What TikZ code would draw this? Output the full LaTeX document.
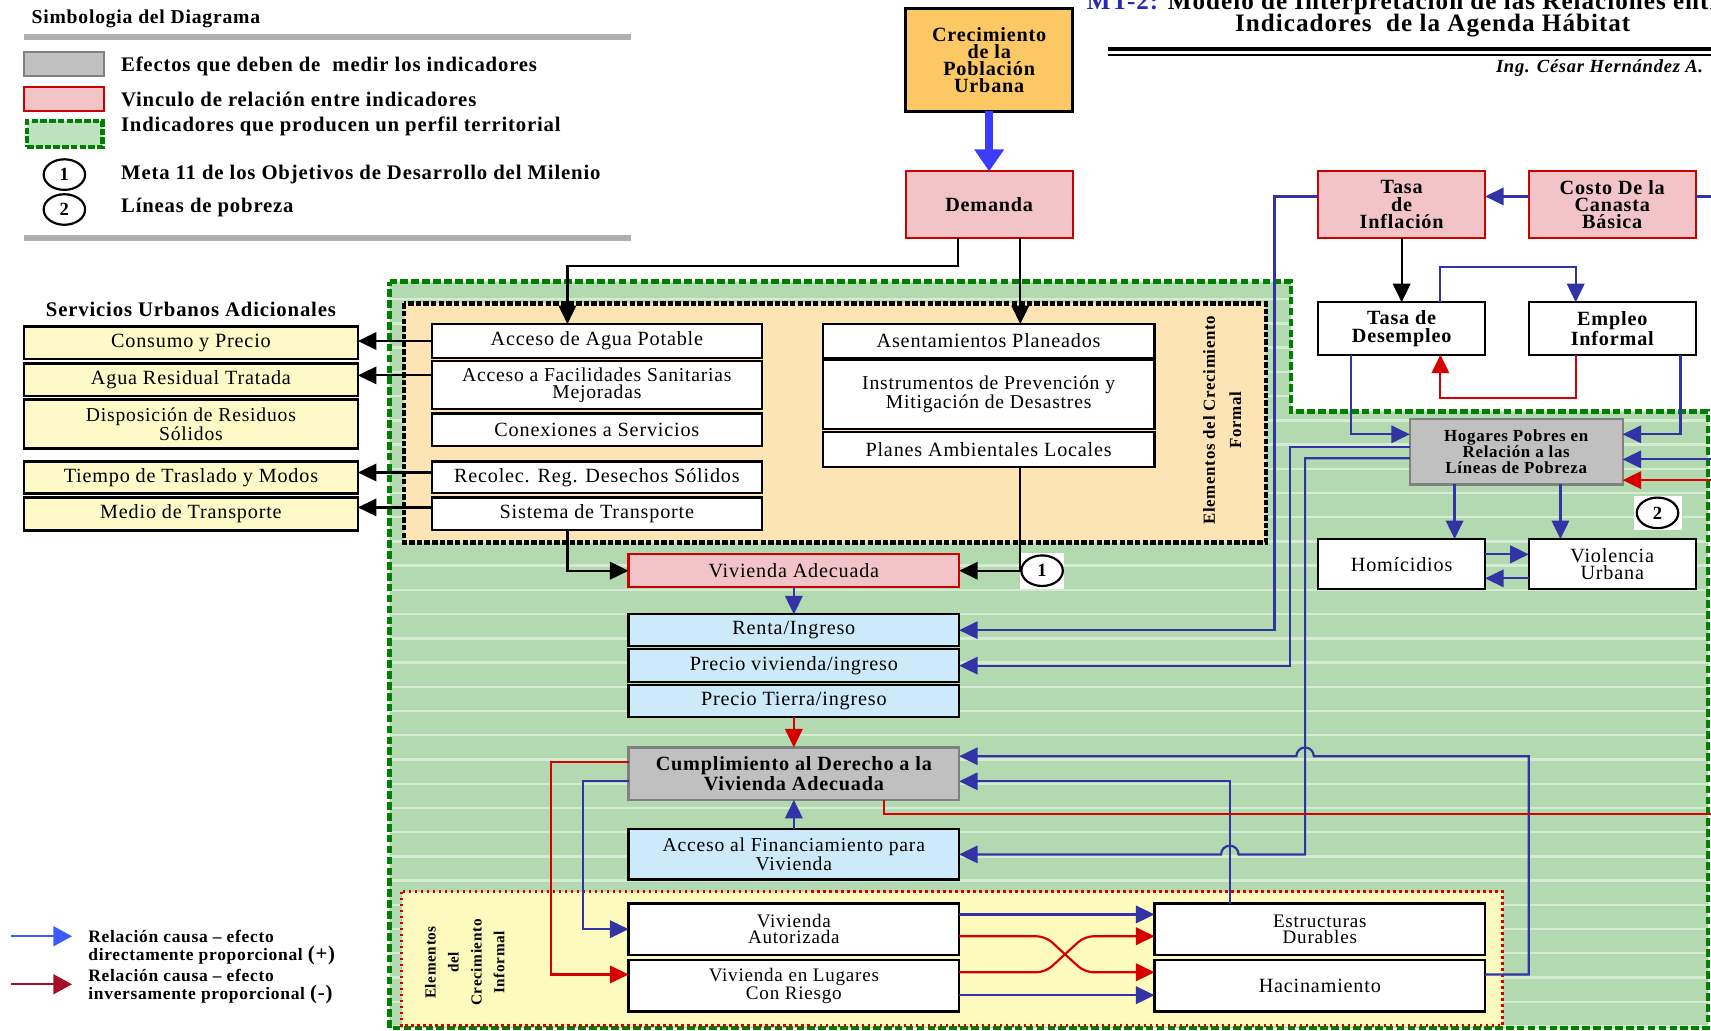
\documentclass[tikz,border=0pt]{standalone}
\usepackage{fontspec}
\setmainfont[LetterSpace=4]{Liberation Serif}
\usetikzlibrary{arrows.meta,shapes.geometric}

\definecolor{pinkf}{RGB}{242,196,200}
\definecolor{redb}{RGB}{205,0,0}
\definecolor{grayf}{RGB}{192,192,192}
\definecolor{grayb}{RGB}{128,128,128}
\definecolor{bluef}{RGB}{204,234,250}
\definecolor{yelf}{RGB}{253,250,200}
\definecolor{orangef}{RGB}{252,200,100}
\definecolor{formalf}{RGB}{253,228,180}
\definecolor{informalf}{RGB}{253,250,190}
\definecolor{greenf}{RGB}{178,217,176}
\definecolor{greenstripe}{RGB}{214,236,210}
\definecolor{greenb}{RGB}{0,128,0}
\definecolor{leggreen}{RGB}{190,226,190}
\definecolor{lineblue}{RGB}{50,52,165}
\definecolor{linered}{RGB}{215,0,0}
\definecolor{bigblue}{RGB}{60,60,255}
\definecolor{legblue}{RGB}{60,90,255}
\definecolor{legred}{RGB}{165,15,40}
\definecolor{barg}{RGB}{175,175,175}
\definecolor{titleblue}{RGB}{40,40,190}

\newcommand\fsz[2]{\fontsize{#1}{#2}\selectfont}
% box from its corners: name, x1, y1, x2, y2, style, text
\newcommand\bx[7]{\node[#6,minimum width={#4-#2},minimum height={#5-#3}] (#1) at ({(#2+#4)/2},{(#3+#5)/2}) {#7};}

\tikzset{
  every node/.style={inner sep=1pt,outer sep=0pt},
  box/.style={draw,line width=2pt,align=center,font=\fsz{18.5}{16}},
  bold/.style={font=\bfseries\fsz{18.5}{16}},
  wbox/.style={box,fill=white},
  pbox/.style={box,fill=pinkf,draw=redb},
  gbox/.style={box,fill=grayf,draw=grayb},
  bbox/.style={box,fill=bluef},
  ybox/.style={box,fill=yelf,line width=2.5pt},
  obox/.style={box,fill=orangef,line width=2.5pt},
  numc/.style={ellipse,draw,line width=2pt,fill=white,minimum width=38,minimum height=28,inner sep=0pt,font=\bfseries\fsz{17}{17}},
  tip/.style={-{Triangle[length=17pt,width=16pt]}},
  blu/.style={draw=lineblue,line width=2pt,tip},
  neg/.style={draw=linered,line width=2pt,tip},
  blk/.style={draw=black,line width=2pt,tip},
  legtxt/.style={anchor=west,font=\bfseries\fsz{19}{19}},
}

\begin{document}
\begin{tikzpicture}[x=1pt,y=-1pt]
\useasboundingbox (0,0) rectangle (1568,944);
\clip (0,0) rectangle (1568,944);
\fill[white] (0,0) rectangle (1568,944);

% ---------- legend ----------
\node[anchor=west,font=\bfseries\fsz{18}{18}] (simb) at (28,17) {Simbologia del Diagrama};
\draw[barg,line width=5pt] (22,34) -- (578,34);
\draw[barg,line width=5pt] (22,218) -- (578,218);
\bx{lg1}{22}{48}{95}{70}{box,fill=grayf,draw=grayb}{}
\bx{lg2}{22}{80}{95}{102}{pbox}{}
\bx{lg3}{25}{111}{94}{135}{box,fill=leggreen,draw=greenb,line width=4pt,dash pattern=on 6pt off 2pt}{}
\node[numc] (lc1) at (59,160) {1};
\node[numc] (lc2) at (59,192) {2};
\node[legtxt] (lt1) at (110,61) {Efectos que deben de~ medir los indicadores};
\node[legtxt] (lt2) at (110,91) {Vinculo de relación entre indicadores};
\node[legtxt] (lt3) at (110,116) {Indicadores que producen un perfil territorial};
\node[legtxt] (lt4) at (110,160) {Meta 11 de los Objetivos de Desarrollo del Milenio};
\node[legtxt] (lt5) at (110,190) {Líneas de pobreza};

% ---------- title ----------
\node[anchor=base west,font=\bfseries\fsz{23}{23}] (t1) at (995,9) {\textcolor{titleblue}{MT-2:} Modelo de Interpretación de las Relaciones entre};
\node[anchor=base,font=\bfseries\fsz{23}{23}] (t2) at (1313,29) {Indicadores~ de la Agenda Hábitat};
\draw[line width=3.5pt] (1015,45) -- (1575,45);
\draw[line width=1.5pt] (1015,50.5) -- (1575,50.5);
\node[anchor=base west,font=\bfseries\itshape\fsz{17}{17}] (auth) at (1370,66) {Ing. César Hernández A.};

% ---------- territorial profile region ----------
\begin{scope}
\clip (357,258) -- (1183,258) -- (1183,377) -- (1565,377) -- (1565,942) -- (357,942) -- cycle;
\fill[greenf] (300,200) rectangle (1600,960);
\foreach \k in {-15,...,16}
  \draw[greenstripe,line width=2.2pt] (350,{585+22.2*\k}) -- (1600,{585+22.2*\k});
\end{scope}
\draw[greenb,line width=4pt,dash pattern=on 7pt off 3pt]
  (357,258) -- (1183,258) -- (1183,377) -- (1565,377) -- (1565,942) -- (357,942) -- cycle;

% formal growth region
\draw[fill=formalf,line width=4pt,dash pattern=on 5pt off 2pt] (370,278) rectangle (1160,497);
\node[rotate=90,align=center,font=\bfseries\fsz{15.5}{24}] (eform) at (1120,385) {Elementos del Crecimiento\\Formal};

% informal growth region
\draw[fill=informalf,draw=linered,line width=2.5pt,dash pattern=on 2.5pt off 3pt] (368,817) rectangle (1377,940);
\node[rotate=90,align=center,font=\bfseries\fsz{14}{21}] (einf) at (426,882) {Elementos\\del\\Crecimiento\\Informal};

% ---------- nodes ----------
\bx{crec}{830}{8}{983}{102}{obox,bold,font=\bfseries\fsz{18.5}{15.5}}{Crecimiento\\de la\\Población\\Urbana}
\bx{dem}{830}{157}{983}{218}{pbox,bold}{Demanda}
\bx{infl}{1208}{157}{1361}{218}{pbox,bold}{Tasa\\de\\Inflación}
\bx{costo}{1401}{157}{1554}{218}{pbox,bold}{Costo De la\\Canasta\\Básica}
\bx{desemp}{1208}{277}{1361}{325}{wbox,bold}{Tasa de\\Desempleo}
\bx{empinf}{1401}{277}{1554}{325}{wbox,bold}{Empleo\\Informal}
\bx{hog}{1292}{384}{1487}{444}{gbox,font=\bfseries\fsz{15.5}{14.5}}{Hogares Pobres en\\Relación a las\\Líneas de Pobreza}
\bx{homi}{1208}{494}{1361}{540}{wbox}{Homícidios}
\bx{viol}{1401}{494}{1554}{540}{wbox}{Violencia\\Urbana}

\node[font=\bfseries\fsz{19}{19}] (serv) at (175,284) {Servicios Urbanos Adicionales};
\bx{s1}{22}{299}{328}{329}{ybox}{Consumo y Precio}
\bx{s2}{22}{333}{328}{363}{ybox}{Agua Residual Tratada}
\bx{s3}{22}{366}{328}{411}{ybox,font=\fsz{18}{15.5}}{Disposición de Residuos\\Sólidos}
\bx{s4}{22}{423}{328}{452}{ybox}{Tiempo de Traslado y Modos}
\bx{s5}{22}{456}{328}{486}{ybox}{Medio de Transporte}

\bx{f1}{396}{297}{698}{328}{wbox}{Acceso de Agua Potable}
\bx{f2}{396}{331}{698}{375}{wbox,font=\fsz{18}{16}}{Acceso a Facilidades Sanitarias\\Mejoradas}
\bx{f3}{396}{379}{698}{409}{wbox}{Conexiones a Servicios}
\bx{f4}{396}{423}{698}{452}{wbox}{Recolec. Reg. Desechos Sólidos}
\bx{f5}{396}{456}{698}{486}{wbox}{Sistema de Transporte}
\bx{g1}{754}{297}{1058}{328}{wbox}{Asentamientos Planeados}
\bx{g2}{754}{330}{1058}{393}{wbox,font=\fsz{18}{15.5}}{Instrumentos de Prevención y\\Mitigación de Desastres}
\bx{g3}{754}{396}{1058}{428}{wbox}{Planes Ambientales Locales}

\bx{vad}{576}{508}{879}{538}{pbox}{Vivienda Adecuada}
\fill[white] (935,507) rectangle (975,540);
\node[numc] (c1) at (955,523) {1};
\fill[white] (1497,455) rectangle (1541,486);
\node[numc] (c2) at (1519,470) {2};
\bx{renta}{576}{563}{879}{592}{bbox}{Renta/Ingreso}
\bx{pviv}{576}{595}{879}{625}{bbox}{Precio vivienda/ingreso}
\bx{ptie}{576}{628}{879}{657}{bbox}{Precio Tierra/ingreso}
\bx{cump}{576}{685}{879}{733}{gbox,bold}{Cumplimiento al Derecho a la\\Vivienda Adecuada}
\bx{afin}{576}{760}{879}{806}{bbox,font=\fsz{18}{16}}{Acceso al Financiamiento para\\Vivienda}

\bx{vaut}{576}{828}{879}{875}{wbox,font=\fsz{17.5}{15}}{Vivienda\\Autorizada}
\bx{vries}{576}{880}{879}{927}{wbox,font=\fsz{17.5}{16}}{Vivienda en Lugares\\Con Riesgo}
\bx{estr}{1058}{828}{1361}{875}{wbox,font=\fsz{17.5}{15}}{Estructuras\\Durables}
\bx{hac}{1058}{880}{1361}{927}{wbox}{Hacinamiento}

% ---------- connectors ----------
\draw[bigblue,line width=7pt,-{Triangle[length=20pt,width=26pt]}] (crec.south) -- (dem.north);
\draw[blk] ([xshift=-28.5]dem.south) -- ++(0,26) -| ([xshift=-27]f1.north);
\draw[blk] ([xshift=28.5]dem.south) -- ([xshift=28.5]dem.south |- g1.north);

\draw[blk] (f1.west) -- (f1.west -| s1.east);
\draw[blk] ([yshift=9]f2.west) -- ([yshift=9]f2.west -| s2.east);
\draw[blk] ([yshift=4.5]f4.west) -- ([yshift=4.5]f4.west -| s4.east);
\draw[blk] ([yshift=6]f5.west) -- ([yshift=6]f5.west -| s5.east);

\draw[blk] ([xshift=-27]f5.south) |- (vad.west);
\draw[line width=2pt] ([xshift=29]g3.south) |- (c1.west);
\draw[blk] (c1.west) -- (vad.east);

\draw[blu] (vad.south) -- (renta.north);
\draw[neg] (ptie.south) -- (cump.north);
\draw[blu] (afin.north) -- (cump.south);

\draw[blu] ([yshift=7.5]costo.west) -- ([yshift=7.5]infl.east);
\draw[blu,-] ([yshift=7.5]costo.east) -- ++(30,0);
\draw[blk] (infl.south) -- (desemp.north);
\draw[blu] ([yshift=7.5]infl.west) -- ++(-40,0) |- (renta.east);

\draw[blu] ([xshift=35.5]desemp.north) -- ++(0,-32) -| ([xshift=-33.5]empinf.north);
\draw[neg] ([xshift=-33.5]empinf.south) -- ++(0,40) -| ([xshift=35.5]desemp.south);
\draw[blu] ([xshift=-46.5]desemp.south) |- ([yshift=16]hog.west);
\draw[blu] ([xshift=62.5]empinf.south) |- ([yshift=16]hog.east);
\draw[blu] (1580,421) -- ([yshift=-7]hog.east);
\draw[neg] (1580,440) -- ([yshift=-26]hog.east);

\draw[blu] ([xshift=-56.5]hog.south) -- ([xshift=-56.5]hog.south |- homi.north);
\draw[blu] ([xshift=40.5]hog.south) -- ([xshift=40.5]hog.south |- viol.north);
\draw[blu] ([yshift=9]homi.east) -- ([yshift=9]viol.west);
\draw[blu] ([yshift=-13]viol.west) -- ([yshift=-13]homi.east);

\draw[blu] ([yshift=4]hog.west) -| (1182,610) -- (pviv.east);
\draw[blu] ([yshift=-6]hog.west) -| (1196,783) -- (1135,783)
  arc[start angle=0,end angle=180,radius=8pt] -- (afin.east);
\draw[blu] ([xshift=-82.5]estr.north) |- ([yshift=-7]cump.east);
\draw[blu] ([yshift=10.5]hac.east) -| (1401,693) -- (1204,693)
  arc[start angle=0,end angle=180,radius=8pt] -- ([yshift=16]cump.east);
\draw[neg,-] ([xshift=82.5]cump.south) -- ++(0,13) -- (1580,746);

\draw[neg] ([yshift=11]cump.west) -| (505,893) -- ([yshift=10.5]vries.west);
\draw[blu] ([yshift=-7]cump.west) -| (534,851.5) -- (vaut.west);

\draw[blu] ([yshift=13.5]vaut.east) -- ([yshift=13.5]estr.west);
\draw[neg,rounded corners=8pt] ([yshift=-6.5]vaut.east) -- (958,858) -- (994,891) -- ([yshift=12.5]hac.west);
\draw[neg,rounded corners=8pt] ([yshift=12.5]vries.east) -- (958,891) -- (994,858) -- ([yshift=-6.5]estr.west);
\draw[blu] ([yshift=-8.5]vries.east) -- ([yshift=-8.5]hac.west);

% ---------- arrow legend ----------
\coordinate (lb0) at (10,858);
\coordinate (lb1) at (66,858);
\coordinate (lr0) at (10,902);
\coordinate (lr1) at (66,902);
\draw[legblue,line width=2pt,-{Triangle[length=17pt,width=18pt]}] (lb0) -- (lb1);
\draw[legred,line width=2pt,-{Triangle[length=17pt,width=18pt]}] (lr0) -- (lr1);
\node[anchor=west,align=left,font=\bfseries\fsz{16}{16.5}] (lbt) at (80,868) {Relación causa – efecto\\directamente proporcional {\fsz{19}{16}(+)}};
\node[anchor=west,align=left,font=\bfseries\fsz{16}{16.5}] (lrt) at (80,904) {Relación causa – efecto\\inversamente proporcional {\fsz{19}{16}(-)}};
\end{tikzpicture}
\end{document}
